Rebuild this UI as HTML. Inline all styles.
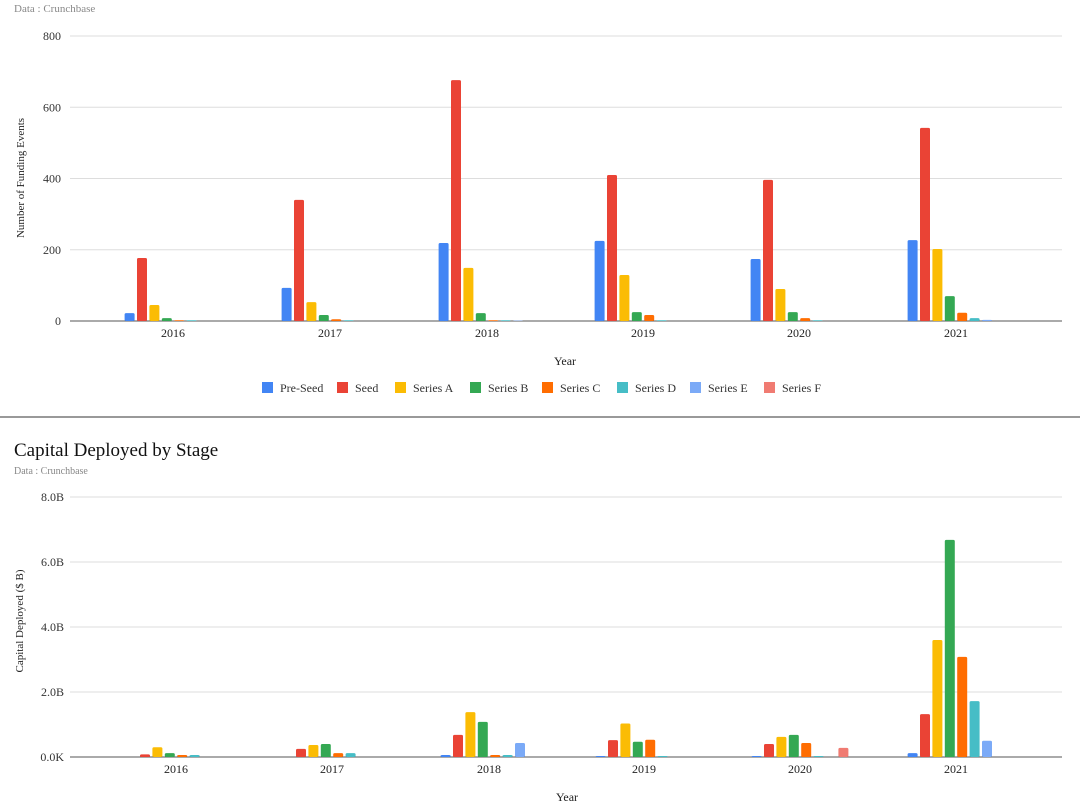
<!DOCTYPE html>
<html><head><meta charset="utf-8"><style>
body{margin:0;background:#fff;width:1080px;height:801px;overflow:hidden}
svg text{font-family:"Liberation Serif",serif}
</style></head><body>
<svg id="s" width="1080" height="801" xmlns="http://www.w3.org/2000/svg"></svg>
<script>
const C=["#4285F4","#EA4335","#FBBC04","#34A853","#FF6D01","#46BDC6","#7BAAF7","#F07B72"];
let h='';
h+='<text x="14" y="12" font-size="11" fill="#888">Data : Crunchbase</text>';
// top chart
const top0=321,sc1=285/800;
[0,200,400,600,800].forEach(v=>{const y=top0-v*sc1;h+=`<line x1="70" x2="1062" y1="${y}" y2="${y}" stroke="${v?'#ddd':'#555'}" stroke-width="1"/><text x="61" y="${y+4}" font-size="12" text-anchor="end" fill="#333">${v}</text>`;});
const d1=[[22,177,45,8,2,2,0,0],[93,340,53,17,5,2,0,0],[219,676,149,22,2,2,1,0],[225,410,129,25,17,2,0,0],[174,396,90,25,8,2,0,0],[227,542,202,70,23,8,3,0]];
const c1=[173,330,487,643,799,956];
d1.forEach((g,j)=>{g.forEach((v,i)=>{if(v<=0)return;const hh=v*sc1,x=c1[j]+(i-3.5)*12.4-5;h+=`<rect x="${x}" y="${top0-hh}" width="10" height="${hh}" rx="1.5" fill="${C[i]}"/>`;});h+=`<text x="${c1[j]}" y="337" font-size="12" text-anchor="middle" fill="#222">${2016+j}</text>`;});
h+='<text x="565" y="365" font-size="12" text-anchor="middle" fill="#222">Year</text>';
h+='<text transform="translate(24,178) rotate(-90)" font-size="11" text-anchor="middle" fill="#222">Number of Funding Events</text>';
const L=["Pre-Seed","Seed","Series A","Series B","Series C","Series D","Series E","Series F"],lx=[262,337,395,470,542,617,690,764];
L.forEach((t,i)=>{h+=`<rect x="${lx[i]}" y="382" width="11" height="11" fill="${C[i]}"/><text x="${lx[i]+18}" y="392" font-size="12" fill="#333">${t}</text>`;});
h+='<rect x="0" y="416" width="1080" height="2" fill="#999"/>';
// bottom
h+='<text x="14" y="456" font-size="19" fill="#111">Capital Deployed by Stage</text>';
h+='<text x="14" y="474" font-size="10" fill="#888">Data : Crunchbase</text>';
const b0=757,sc2=32.5;
[[0,'0.0K'],[2,'2.0B'],[4,'4.0B'],[6,'6.0B'],[8,'8.0B']].forEach(([v,t])=>{const y=b0-v*sc2;h+=`<line x1="70" x2="1062" y1="${y}" y2="${y}" stroke="${v?'#ddd':'#555'}" stroke-width="1"/><text x="64" y="${y+4}" font-size="12" text-anchor="end" fill="#333">${t}</text>`;});
const d2=[[0,0.08,0.3,0.12,0.06,0.06,0,0],[0,0.25,0.37,0.4,0.12,0.12,0,0],[0.06,0.68,1.38,1.08,0.06,0.06,0.43,0],[0.03,0.52,1.03,0.47,0.53,0.03,0,0],[0.03,0.4,0.62,0.68,0.43,0.03,0,0.28],[0.12,1.32,3.6,6.68,3.08,1.72,0.5,0]];
const c2=[176,332,489,644,800,956];
d2.forEach((g,j)=>{g.forEach((v,i)=>{if(v<=0)return;const hh=v*sc2,x=c2[j]+(i-3.5)*12.4-5;h+=`<rect x="${x}" y="${b0-hh}" width="10" height="${hh}" rx="1.5" fill="${C[i]}"/>`;});h+=`<text x="${c2[j]}" y="773" font-size="12" text-anchor="middle" fill="#222">${2016+j}</text>`;});
h+='<text x="567" y="801" font-size="12" text-anchor="middle" fill="#222">Year</text>';
h+='<text transform="translate(23,621) rotate(-90)" font-size="11" text-anchor="middle" fill="#222">Capital Deployed ($ B)</text>';
document.getElementById('s').innerHTML=h;
</script>
</body></html>
